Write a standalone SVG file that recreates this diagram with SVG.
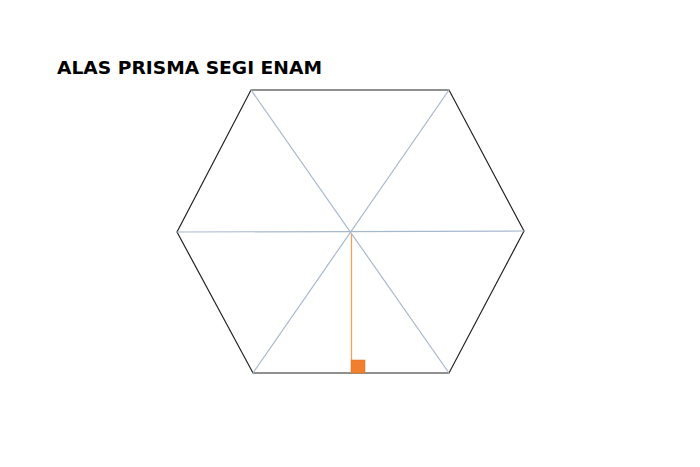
<svg xmlns="http://www.w3.org/2000/svg" width="700" height="467" viewBox="0 0 700 467">
<style>
.title{font-family:"DejaVu Sans",Verdana,sans-serif;font-weight:bold;font-size:17px;fill:#000}
.hex{fill:none;stroke:#222;stroke-width:1.2}
.diag{stroke:#a8b8cc;stroke-width:1.2;fill:none}
.alt{stroke:#f5a05a;stroke-width:1.3;fill:none}
</style>
<rect width="700" height="467" fill="#fff"/>
<text class="title" x="57" y="74" textLength="265" lengthAdjust="spacingAndGlyphs">ALAS PRISMA SEGI ENAM</text>
<g id="hexagon">
<polygon class="hex" points="251,90 449,90 524,231 449,373 253,373 177,232"/>
</g>
<g id="connectors">
<line class="diag" x1="251" y1="90" x2="449" y2="373"/>
<line class="diag" x1="449" y1="90" x2="253" y2="373"/>
<line class="diag" x1="177" y1="232" x2="524" y2="231"/>
<line class="alt" x1="351.5" y1="234" x2="351.5" y2="360"/>
</g>
<g id="right-angle">
<rect x="351" y="360" width="14" height="13" fill="#f07f2e" stroke="#e07020" stroke-width="0.5"/>
</g>
</svg>
